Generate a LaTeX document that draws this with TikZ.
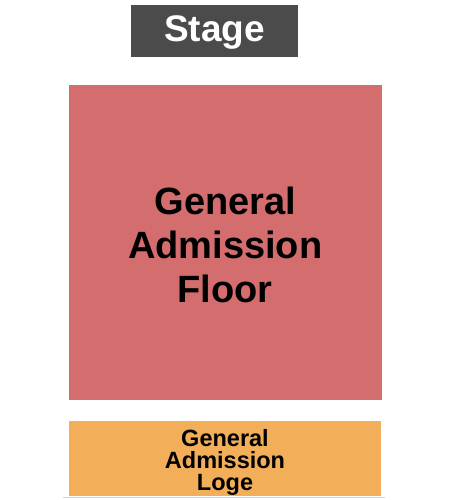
\documentclass[tikz,border=0pt]{standalone}
\usepackage{fontspec}
\setmainfont{Liberation Sans}
\definecolor{stagegray}{HTML}{4B4B4B}
\definecolor{floorred}{HTML}{D46E6E}
\definecolor{logeorange}{HTML}{F2AE58}
\definecolor{edgegray}{HTML}{D4D4D4}
\begin{document}
\begin{tikzpicture}[x=1pt,y=-1pt,
  bigtext/.style={font=\fontsize{38}{44}\selectfont\bfseries,align=center,inner sep=0pt},
  smalltext/.style={font=\fontsize{23.5}{22}\selectfont\bfseries,align=center,inner sep=0pt}]
\useasboundingbox[fill=white] (0,0) rectangle (450,500);
\fill[stagegray] (131,5) rectangle (298,57);
\node[font=\fontsize{37}{44}\selectfont\bfseries,text=white,inner sep=0pt,anchor=base] (stage) at (214.5,42) {Stage};
\fill[floorred] (69,85) rectangle (381.5,399.5);
\node[bigtext,text=black] (floor) at (225.25,245) {General\\Admission\\Floor};
\fill[logeorange] (69,421) rectangle (381,496);
\node[smalltext,text=black] (loge) at (225,462.8) {General\\Admission\\Loge};
\draw[edgegray,line width=1.2pt] (63,497.5) -- (385,497.5);
\end{tikzpicture}
\end{document}
